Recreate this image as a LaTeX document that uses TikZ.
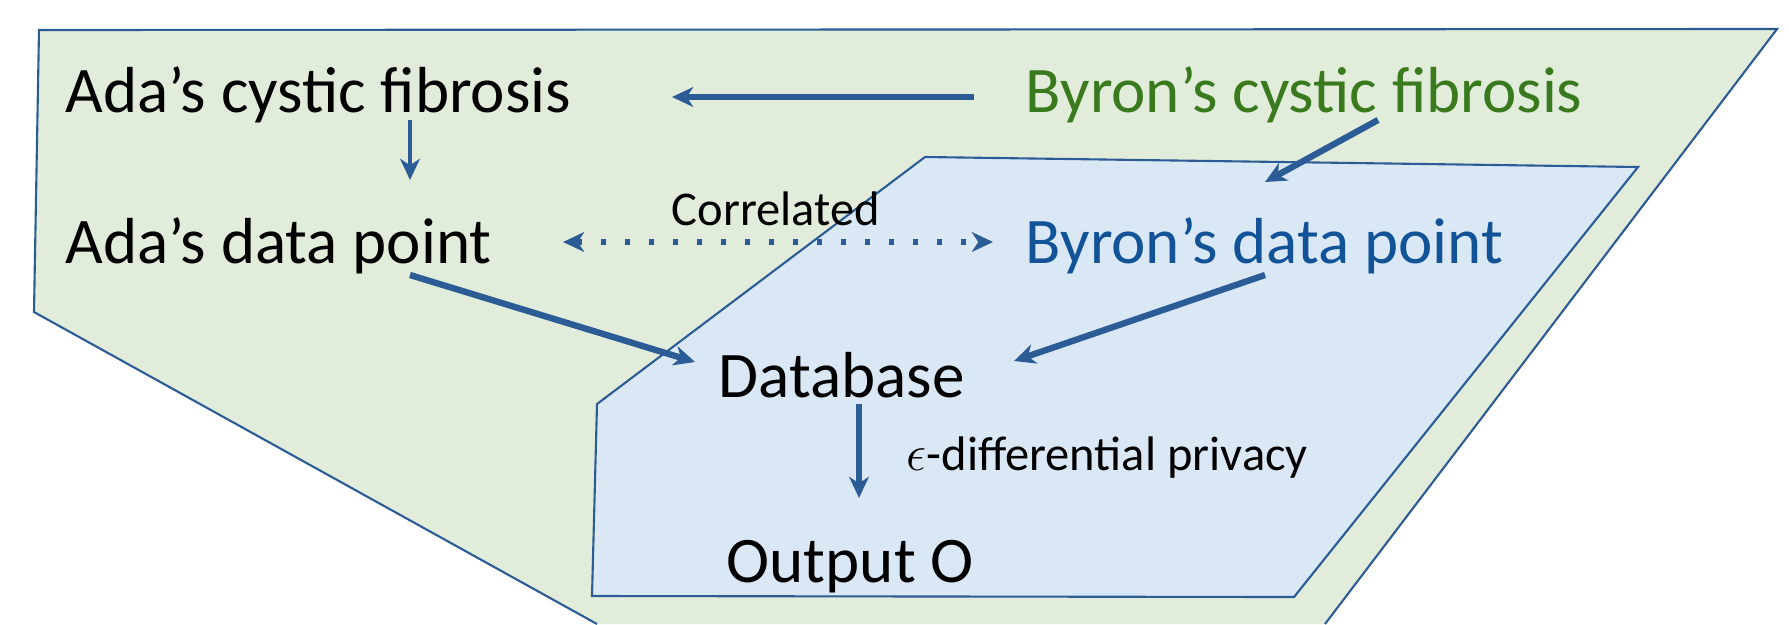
\documentclass[tikz,border=0pt]{standalone}
\usepackage{fontspec}
\setmainfont{Carlito}
\usetikzlibrary{arrows.meta,calc}

\definecolor{edgeblue}{HTML}{2C5C96}
\definecolor{outergreen}{HTML}{E2ECDA}
\definecolor{innerblue}{HTML}{DAE8F6}
\definecolor{textgreen}{HTML}{3A7A1E}
\definecolor{textblue}{HTML}{125296}

\begin{document}
\begin{tikzpicture}[x=0.01cm,y=-0.01cm,
    big/.style={inner sep=0pt,anchor=base west,font=\fontsize{18.5}{21}\selectfont},
    small/.style={inner sep=0pt,anchor=base west,font=\fontsize{13.8}{16}\selectfont},
    region/.style={draw=edgeblue,line width=0.6pt,line join=miter},
    arr/.style={draw=edgeblue,line width=1.8pt,-{Stealth[length=6pt,width=5.6pt,inset=1.8pt]}},
    corr/.style={draw=edgeblue,line width=1.8pt,dash pattern=on 0.055cm off 0.185cm,
        {Stealth[length=6pt,width=5.6pt,inset=1.8pt]}-{Stealth[length=6pt,width=5.6pt,inset=1.8pt]}}]
    \useasboundingbox (0,0) rectangle (1789,624);
    \fill[outergreen] (39,30) -- (1777,29) -- (1325,624) -- (597,624) -- (34,312) -- cycle;
    \draw[region] (597,624) -- (34,312) -- (39,30) -- (1777,29) -- (1325,624);
    \draw[region,fill=innerblue] (925,157) -- (1638,167) -- (1294,597) -- (592,596) -- (597,404) -- cycle;

    \node[big] (adacf) at (65,112) {Ada’s cystic fibrosis};
    \node[big,text=textgreen] (byroncf) at (1025,112) {Byron’s cystic fibrosis};
    \node[big] (adadp) at (65,263) {Ada’s data point};
    \node[big,text=textblue] (byrondp) at (1025,263) {Byron’s data point};
    \node[small] (corrlabel) at (671,225) {Correlated};
    \node[big] (db) at (718,397) {Database};
    \node[small] (dplabel) at (906,470) {$\epsilon$-differential privacy};
    \node[big] (out) at (726,582) {Output O};

    \draw[arr] ($(byroncf.base west)+(-51,-15)$) -- ($(adacf.base west)+(607,-15)$);
    \draw[arr,line width=1.4pt] ($(adacf.base west)+(345,8)$) -- ($(adadp.base west)+(345,-83)$);
    \draw[corr] ($(adadp.base west)+(498,-21)$) -- ($(byrondp.base west)+(-32,-21)$);
    \draw[arr] ($(adadp.base west)+(345,12)$) -- ($(db.base west)+(-23,-35)$);
    \draw[arr] ($(byroncf.base west)+(353,8)$) -- ($(byrondp.base west)+(240,-81)$);
    \draw[arr] ($(byrondp.base west)+(240,12)$) -- ($(db.base west)+(296,-36)$);
    \draw[arr,line width=1.5pt] ($(db.base west)+(141,7)$) -- ($(out.base west)+(133,-84)$);
\end{tikzpicture}
\end{document}
